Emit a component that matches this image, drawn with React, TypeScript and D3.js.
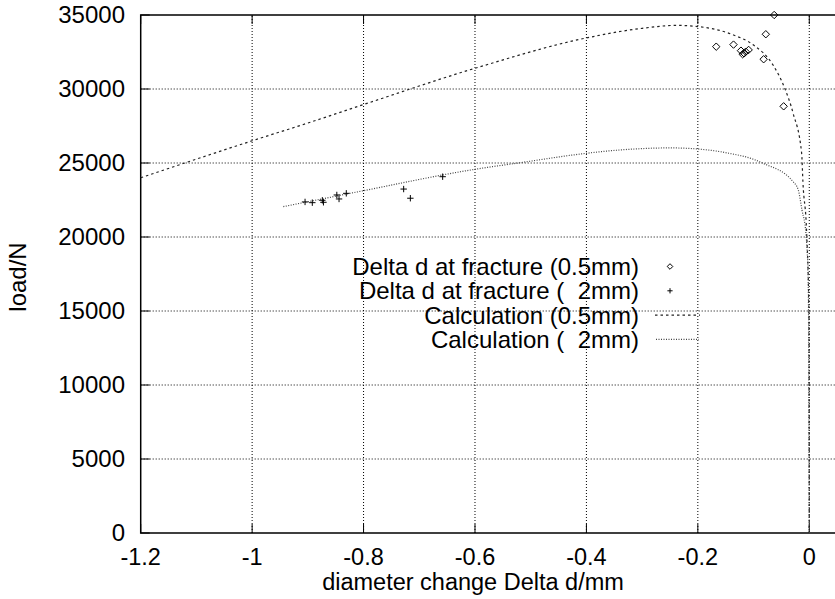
import React from "react";
import * as d3 from "d3";

const xTicks = [-1.2, -1, -0.8, -0.6, -0.4, -0.2, 0];
const yTicks = [0, 5000, 10000, 15000, 20000, 25000, 30000, 35000];

const frac05X = [-0.063, -0.078, -0.167, -0.136, -0.1226, -0.117, -0.1196, -0.1088, -0.114, -0.0819, -0.046];
const frac05Y = [35000, 33700, 32860, 33000, 32590, 32410, 32350, 32640, 32520, 32010, 28830];

const frac2X = [-0.905, -0.892, -0.874, -0.872, -0.848, -0.844, -0.831, -0.728, -0.716, -0.658];
const frac2Y = [22370, 22320, 22480, 22345, 22840, 22570, 22950, 23240, 22620, 24075];

const calc05X = [-1.2, -1.0, -0.9, -0.8, -0.6, -0.4, -0.3, -0.238, -0.2, -0.136, -0.1, -0.065, -0.044, -0.029, -0.0137, -0.0113, -0.0047, -0.0005, 0];
const calc05Y = [24000, 26500, 27700, 28950, 31400, 33450, 34100, 34300, 34220, 33650, 32970, 31620, 30050, 28360, 25660, 23650, 20270, 14660, 0];

const calc2X = [-0.944, -0.8, -0.6, -0.519, -0.4, -0.34, -0.25, -0.2, -0.143, -0.1, -0.083, -0.029, -0.0197, -0.0131, -0.006, -0.0018, 0];
const calc2Y = [22050, 23130, 24575, 25020, 25656, 25880, 26020, 25946, 25650, 25250, 24981, 23737, 23176, 21825, 20250, 16872, 0];

const legendLabels = [
  "Delta d at fracture (0.5mm)",
  "Delta d at fracture (  2mm)",
  "Calculation (0.5mm)",
  "Calculation (  2mm)",
];

const W = 835;
const H = 599;
const FONT = "'Liberation Sans', Arial, Helvetica, sans-serif";

export default function App() {
  const x = d3.scaleLinear().domain([-1.2, 0.2]).range([140.7, 920.7]);
  const y = d3.scaleLinear().domain([0, 35000]).range([533, 15]);
  const left = x(-1.2);
  const right = x(0.2);
  const top = y(35000);
  const bottom = y(0);

  const line = d3
    .line<[number, number]>()
    .x((d) => x(d[0]))
    .y((d) => y(d[1]))
    .curve(d3.curveMonotoneX);

  const calc05 = calc05X.map((v, i) => [v, calc05Y[i]] as [number, number]);
  const calc2 = calc2X.map((v, i) => [v, calc2Y[i]] as [number, number]);

  const diamond = (cx: number, cy: number, r: number) =>
    `M${cx},${cy - r}L${cx + r},${cy}L${cx},${cy + r}L${cx - r},${cy}Z`;
  const plus = (cx: number, cy: number, r: number) =>
    `M${cx - r},${cy}H${cx + r}M${cx},${cy - r}V${cy + r}`;

  const legY = [266.5, 290.8, 315.1, 339.4];
  const legTextX = 639;

  const tickLen = 9;

  return (
    <>
      <style>{`html,body{margin:0;padding:0;overflow:hidden;background:#fff}`}</style>
      <svg
        width={W}
        height={H}
        style={{ display: "block", background: "#fff" }}
        fontFamily={FONT}
      >
        <defs>
          <clipPath id="view">
            <rect x={0} y={0} width={W} height={H} />
          </clipPath>
        </defs>
        <g clipPath="url(#view)">
          <rect x={0} y={0} width={W} height={H} fill="#fff" />
          {/* grid */}
          <g stroke="#000" strokeWidth={1} strokeDasharray="1,2" fill="none">
            {xTicks
              .filter((t) => t > -1.2)
              .map((t) => (
                <line key={"gx" + t} x1={x(t)} x2={x(t)} y1={bottom} y2={top} />
              ))}
            {yTicks
              .filter((t) => t > 0 && t < 35000)
              .map((t) => (
                <line key={"gy" + t} x1={left} x2={right} y1={y(t)} y2={y(t)} />
              ))}
          </g>
          {/* ticks */}
          <g stroke="#000" strokeWidth={1}>
            {xTicks.map((t) => (
              <g key={"tx" + t}>
                <line x1={x(t)} x2={x(t)} y1={bottom} y2={bottom - tickLen} />
                <line x1={x(t)} x2={x(t)} y1={top} y2={top + tickLen} />
              </g>
            ))}
            {yTicks.map((t) => (
              <line key={"ty" + t} x1={left} x2={left + tickLen} y1={y(t)} y2={y(t)} />
            ))}
          </g>
          {/* border */}
          <path
            d={`M${right},${top}H${left}V${bottom}H${right}`}
            fill="none"
            stroke="#000"
            strokeWidth={1.5}
          />
          {/* tick labels */}
          <g fill="#000">
            {xTicks.map((t) => (
              <text key={"lx" + t} x={x(t)} y={564.5} fontSize={23.5} textAnchor="middle">
                {String(t)}
              </text>
            ))}
            {yTicks.map((t) => (
              <text key={"ly" + t} x={125} y={y(t)} dy="0.35em" fontSize={24} textAnchor="end">
                {String(t)}
              </text>
            ))}
          </g>
          {/* axis labels */}
          <text x={473} y={590} fontSize={23.5} textAnchor="middle">
            diameter change Delta d/mm
          </text>
          <text transform={`translate(26,277) rotate(-90)`} fontSize={24} textAnchor="middle">
            load/N
          </text>
          {/* curves */}
          <path d={line(calc05) || ""} fill="none" stroke="#222" strokeWidth={1.2} strokeDasharray="2.5,3" />
          <path d={line(calc2) || ""} fill="none" stroke="#444" strokeWidth={1.2} strokeDasharray="1,1.5" />
          {/* points */}
          <g fill="none" stroke="#000" strokeWidth={1}>
            {frac05X.map((v, i) => (
              <path key={"d" + i} d={diamond(x(v), y(frac05Y[i]), 3.7)} />
            ))}
            {frac2X.map((v, i) => (
              <path key={"p" + i} d={plus(x(v), y(frac2Y[i]), 3.2)} />
            ))}
          </g>
          {/* legend */}
          <g fontSize={24} fill="#000">
            {legendLabels.map((l, i) => (
              <text
                key={"lg" + i}
                x={legTextX}
                y={legY[i]}
                dy="0.35em"
                textAnchor="end"
                style={{ whiteSpace: "pre" }}
              >
                {l}
              </text>
            ))}
          </g>
          <path d={diamond(670, legY[0], 2.8)} fill="none" stroke="#000" strokeWidth={1} />
          <path d={plus(670, legY[1], 2.6)} fill="none" stroke="#000" strokeWidth={1} />
          <line x1={655} x2={700} y1={legY[2]} y2={legY[2]} stroke="#222" strokeWidth={1.2} strokeDasharray="2.5,3" />
          <line x1={656} x2={699} y1={legY[3]} y2={legY[3]} stroke="#444" strokeWidth={1.2} strokeDasharray="1,1.5" />
        </g>
      </svg>
    </>
  );
}
